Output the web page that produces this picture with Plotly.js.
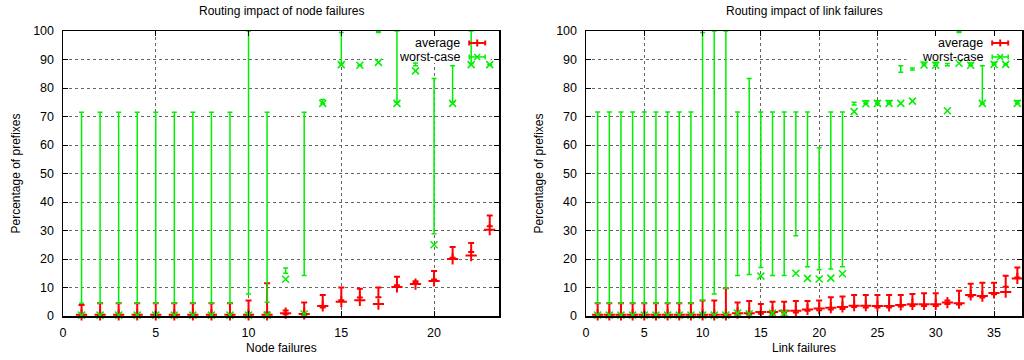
<!DOCTYPE html>
<html><head><meta charset="utf-8">
<script src="https://cdn.plot.ly/plotly-3.0.1.min.js"></script>
<style>html,body{margin:0;padding:0;background:#fff}#chart{width:1024px;height:360px}</style>
</head><body><div id="chart"></div>
<script>
// ---- Data: node failures (left) ----
const nodeX = [1,2,3,4,5,6,7,8,9,10,11,12,13,14,15,16,17,18,19,20,21,22,23];
const nodeAvg     = [0.4,0.4,0.4,0.4,0.4,0.4,0.4,0.4,0.4,0.4,0.4,1.0,0.7,3.5,5.0,5.5,4.2,10.2,11.2,12.3,20.0,21.2,30.3];
const nodeAvgLow  = [0,0,0,0,0,0,0,0,0,0,1.2,0.6,0.3,3.0,5.5,6.5,6.6,10.8,11.7,12.8,20.4,22.5,31.5];
const nodeAvgHigh = [3.9,4.5,4.5,4.5,4.5,4.5,4.5,4.5,4.5,5.4,11.5,1.9,4.7,7.4,10.0,9.6,10.0,13.8,12.2,15.8,24.2,25.6,35.3];
const nodeWorst     = [0.3,0.3,0.3,0.3,0.3,0.3,0.3,0.3,0.3,0.3,0.3,12.9,0.7,74.6,88.2,88.0,89.0,74.6,86.0,25.0,74.6,88.2,88.2];
const nodeWorstLow  = [4.5,4.5,4.5,4.5,4.5,4.5,4.5,4.5,4.5,7.7,4.8,15.0,14.2,74.5,88.5,88.0,99.5,75.0,87.8,28.9,75.0,88.5,88.2];
const nodeWorstHigh = [71.5,71.5,71.5,71.5,71.5,71.5,71.5,71.5,71.5,100,71.5,16.8,71.5,76.0,99.5,88.0,100,100,88.8,83.3,87.8,100,88.2];

// ---- Data: link failures (right) ----
const linkX = [1,2,3,4,5,6,7,8,9,10,11,12,13,14,15,16,17,18,19,20,21,22,23,24,25,26,27,28,29,30,31,32,33,34,35,36,37];
const linkAvg     = [0.4,0.4,0.4,0.4,0.4,0.4,0.4,0.4,0.4,0.4,0.4,0.4,1.0,1.0,1.4,1.4,1.8,1.8,2.3,2.6,2.9,3.2,3.6,3.6,3.5,3.5,3.9,4.1,4.1,4.1,4.7,4.5,7.4,7.0,8.1,8.4,13.2];
const linkAvgLow  = [0,0,0,0,0,0,0,0,0,0,0,0,0.5,0.5,0.8,0.8,1.2,1.2,1.8,2.0,2.3,2.5,3.2,3.0,3.0,3.0,3.3,3.5,3.5,3.5,4.2,4.0,6.8,6.5,7.6,10.3,13.5];
const linkAvgHigh = [4.5,4.5,4.5,4.5,4.5,4.5,4.5,4.5,4.5,5.4,5.4,9.7,4.7,5.3,4.2,5.0,5.0,5.3,5.3,5.4,6.6,6.8,7.4,7.4,7.4,7.4,7.4,7.7,8.0,8.0,5.4,8.9,11.3,11.7,11.7,14.1,17.0];
const linkWorst     = [0.3,0.3,0.3,0.3,0.3,0.3,0.3,0.3,0.3,0.3,0.3,0.3,1.0,0.8,14.0,1.0,1.0,15.0,13.2,13.0,13.3,14.8,71.7,74.5,74.6,74.6,74.6,75.4,88.1,88.0,72.0,88.7,88.0,74.6,88.3,88.3,74.6];
const linkWorstLow  = [4.5,4.5,4.5,4.5,4.5,4.5,4.5,4.5,4.5,5.4,7.7,9.7,14.2,14.6,17.0,14.2,14.2,28.2,17.3,16.2,16.5,17.3,74.0,74.5,74.6,74.6,85.5,86.3,88.1,88.0,87.8,99.5,88.0,74.6,88.3,88.3,74.6];
const linkWorstHigh = [71.6,71.6,71.6,71.6,71.6,71.6,71.6,71.6,71.6,99.5,100,100,71.6,83.3,71.6,71.6,71.6,71.6,71.6,59.0,71.6,71.6,75.0,75.5,75.5,75.5,87.8,87.0,89.0,89.0,88.6,100,88.8,87.8,89.0,88.3,75.5];

const yTicks = [0,10,20,30,40,50,60,70,80,90,100];
const nodeTicks = [0,5,10,15,20];
const linkTicks = [0,5,10,15,20,25,30,35];
const nodeRange = [0, 23.5];
const linkRange = [0, 37.4];
const yRange = [0, 100];

const RED = '#ff0000', GREEN = '#00f000';
const FONT = 'Liberation Sans, Arial, Helvetica, sans-serif';

function barTrace(x, low, high, color, thick, w, xa, ya) {
  return {type:'scatter', mode:'markers', x:x, y:low, xaxis:xa, yaxis:ya,
    marker:{size:1, opacity:0}, cliponaxis:false, hoverinfo:'skip', showlegend:false,
    error_y:{type:'data', symmetric:false, array:high.map((h,i)=>h-low[i]), arrayminus:low.map(()=>0),
      color:color, thickness:thick, width:w}};
}
function markTrace(x, y, color, symbol, size, lw, xa, ya) {
  return {type:'scatter', mode:'markers', x:x, y:y, xaxis:xa, yaxis:ya, cliponaxis:false,
    hoverinfo:'skip', showlegend:false,
    marker:{symbol:symbol, size:size, color:color, line:{color:color, width:lw}}};
}

const traces = [
  barTrace(nodeX, nodeAvgLow, nodeAvgHigh, RED, 2, 3, 'x', 'y'),
  markTrace(nodeX, nodeAvg, RED, 'cross-thin', 8, 2, 'x', 'y'),
  barTrace(nodeX, nodeWorstLow, nodeWorstHigh, GREEN, 1.5, 2.5, 'x', 'y'),
  markTrace(nodeX, nodeWorst, GREEN, 'x-thin', 7, 1.5, 'x', 'y'),
  barTrace(linkX, linkAvgLow, linkAvgHigh, RED, 2, 3, 'x2', 'y2'),
  markTrace(linkX, linkAvg, RED, 'cross-thin', 8, 2, 'x2', 'y2'),
  barTrace(linkX, linkWorstLow, linkWorstHigh, GREEN, 1.5, 2.5, 'x2', 'y2'),
  markTrace(linkX, linkWorst, GREEN, 'x-thin', 7, 1.5, 'x2', 'y2')
];

function xAxis(domain, range, ticks, anchor) {
  return {domain:domain, range:range, anchor:anchor, tickvals:ticks, ticktext:ticks.map(String),
    showgrid:true, gridcolor:'#666', griddash:'dot', gridwidth:1, zeroline:false,
    showline:true, linecolor:'#000', linewidth:1.5, mirror:'ticks',
    ticks:'inside', ticklen:5, tickcolor:'#000', ticklabelstandoff:4,
    tickfont:{family:FONT, size:12.5, color:'#000'}};
}
function yAxis(anchor) {
  return {domain:[0,1], range:yRange, anchor:anchor, tickvals:yTicks, ticktext:yTicks.map(String),
    showgrid:true, gridcolor:'#666', griddash:'dot', gridwidth:1, zeroline:false,
    showline:true, linecolor:'#000', linewidth:1.5, mirror:'ticks',
    ticks:'inside', ticklen:5, tickcolor:'#000', ticklabelstandoff:5,
    tickfont:{family:FONT, size:12.5, color:'#000'}};
}

const shapes = [];
const annotations = [];
function addPanel(xr, yr, xRange, title, xtitle) {
  const xd = xr + ' domain', yd = yr + ' domain';
  const fx = f => xRange[0] + f * (xRange[1] - xRange[0]);
  const fy = f => yRange[0] + f * (yRange[1] - yRange[0]);
  // legend background box (between grid and data)
  shapes.push({type:'rect', xref:xr, yref:yr, x0:fx(0.735), x1:fx(0.981), y0:fy(0.888), y1:fy(0.986),
    fillcolor:'#fff', line:{width:0}, layer:'between'});
  const entries = [
    {label:'average', y:0.958, color:RED, w:2, kind:'plus'},
    {label:'worst-case', y:0.909, color:GREEN, w:1.5, kind:'x'}
  ];
  entries.forEach(e => {
    annotations.push({xref:xd, yref:yd, x:0.914, y:e.y, xanchor:'right', yanchor:'middle',
      text:e.label, showarrow:false, font:{family:FONT, size:12.5, color:'#000'}});
    const base = {type:'line', xref:xd, yref:yd, xsizemode:'pixel', ysizemode:'pixel',
      xanchor:0.950, yanchor:e.y, line:{color:e.color, width:e.w}};
    shapes.push(Object.assign({}, base, {x0:-8, x1:8, y0:0, y1:0}));
    shapes.push(Object.assign({}, base, {x0:-8, x1:-8, y0:-2.5, y1:2.5}));
    shapes.push(Object.assign({}, base, {x0:8, x1:8, y0:-2.5, y1:2.5}));
    if (e.kind === 'plus') {
      shapes.push(Object.assign({}, base, {x0:0, x1:0, y0:-3.5, y1:3.5}));
    } else {
      shapes.push(Object.assign({}, base, {x0:-3, x1:3, y0:-3, y1:3}));
      shapes.push(Object.assign({}, base, {x0:-3, x1:3, y0:3, y1:-3}));
    }
  });
  annotations.push({xref:xd, yref:yd, x:0.5, y:1.07, xanchor:'center', yanchor:'middle',
    text:title, showarrow:false, font:{family:FONT, size:12, color:'#000'}});
  annotations.push({xref:xd, yref:yd, x:0.5, y:-0.112, xanchor:'center', yanchor:'middle',
    text:xtitle, showarrow:false, font:{family:FONT, size:12, color:'#000'}});
  annotations.push({xref:xd, yref:yd, x:-0.110, y:0.5, xanchor:'center', yanchor:'middle',
    text:'Percentage of prefixes', textangle:-90, showarrow:false, font:{family:FONT, size:12, color:'#000'}});
}
addPanel('x', 'y', nodeRange, 'Routing impact of node failures', 'Node failures');
addPanel('x2', 'y2', linkRange, 'Routing impact of link failures', 'Link failures');

const layout = {
  width:1024, height:360, margin:{l:0, r:0, t:31, b:44},
  paper_bgcolor:'#fff', plot_bgcolor:'#fff', showlegend:false,
  font:{family:FONT, size:12, color:'#000'},
  xaxis: xAxis([63/1024, 499/1024], nodeRange, nodeTicks, 'y'),
  yaxis: yAxis('x'),
  xaxis2: xAxis([586/1024, 1022/1024], linkRange, linkTicks, 'y2'),
  yaxis2: yAxis('x2'),
  shapes: shapes, annotations: annotations
};
Plotly.newPlot('chart', traces, layout, {staticPlot:true, displayModeBar:false});
</script></body></html>
